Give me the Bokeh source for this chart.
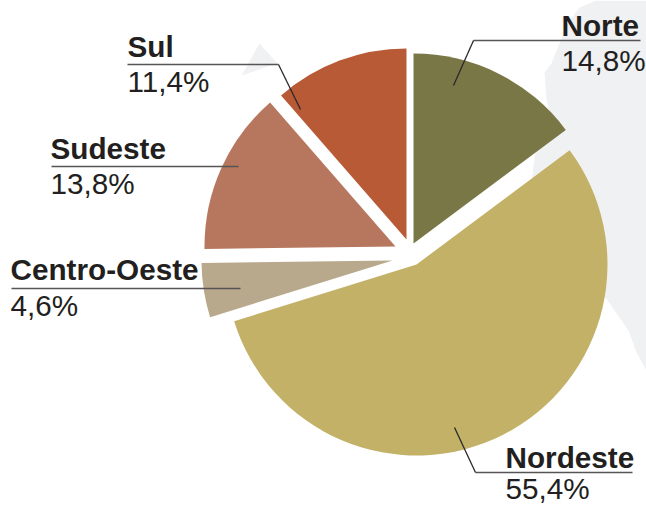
import math
from bokeh.embed import file_html
from bokeh.models import ColumnDataSource, Range1d
from bokeh.plotting import figure
from bokeh.resources import INLINE
from bokeh.core.properties import value

# Data
regions = ["Norte", "Nordeste", "Centro-Oeste", "Sudeste", "Sul"]
shares = [14.8, 55.4, 4.6, 13.8, 11.4]
share_labels = ["14,8%", "55,4%", "4,6%", "13,8%", "11,4%"]
colors = ["#797746", "#c3b168", "#b8a88c", "#b7775e", "#b85a36"]

# Exploded apex of each slice, image pixels
apex_x = [413, 416, 392, 395, 406]
apex_y = [243, 264, 260, 246, 239]
radius = [190, 191, 191, 191, 191]

# Label text anchor, image pixels
name_x = [561, 505, 10, 50, 127]
name_y = [36, 468, 280, 159, 57]
pct_y = [71, 499, 316, 194, 92]

# Leader lines, image pixels
leader_h_x = [[473, 640], [475, 632], [11, 240], [51, 238], [127, 278]]
leader_h_y = [[40, 40], [472, 472], [288, 288], [166, 166], [64, 64]]
leader_d_x = [[473, 453], [475, 454], [], [], [278, 300]]
leader_d_y = [[40, 85], [472, 427], [], [], [64, 109]]

# Pale map behind the chart, image pixels
map_a_x = [596, 579, 569, 559, 551, 544, 546, 552, 535, 530, 600, 628, 636, 646, 646]
map_a_y = [0, 7, 20, 43, 63, 72, 100, 125, 150, 190, 290, 330, 352, 370, 0]
map_b_x = [259, 241, 277]
map_b_y = [43, 75, 63]

W, H = 646, 506


def up(values):
    return [H - v for v in values]


p = figure(width=W, height=H, output_backend="svg", toolbar_location=None,
           x_range=Range1d(0, W), y_range=Range1d(0, H),
           min_border=0, outline_line_color=None, background_fill_color="white")
p.axis.visible = False
p.grid.visible = False

p.patches([map_a_x, map_b_x], [up(map_a_y), up(map_b_y)],
          fill_color="#f0f1f3", line_color=None)

# clockwise from north
cum = 0.0
starts, ends = [], []
for s in shares:
    starts.append(math.radians(90 - cum * 3.6))
    cum += s
    ends.append(math.radians(90 - cum * 3.6))

src = ColumnDataSource(dict(x=apex_x, y=up(apex_y), r=radius, s=ends, e=starts, c=colors))
p.wedge(x="x", y="y", radius="r", start_angle="s", end_angle="e",
        direction="anticlock", fill_color="c", line_color=None, source=src)

p.multi_line(leader_h_x, [up(v) for v in leader_h_y], line_color="#565455", line_width=1.6)
dx = [v for v in leader_d_x if v]
dy = [up(v) for v in leader_d_y if v]
p.multi_line(dx, dy, line_color="#2a2829", line_width=1.3)

p.text(name_x, up(name_y), text=regions, text_font=value("Liberation Sans"),
       text_font_style="bold", text_font_size="29.7px", text_color="#231f20",
       text_baseline="alphabetic", text_align="left", y_offset=-11)
p.text(name_x, up(pct_y), text=share_labels, text_font=value("Liberation Sans"),
       text_font_size="29.7px", text_color="#231f20",
       text_baseline="alphabetic", text_align="left", y_offset=-11)

open("out.html", "w").write(file_html(p, INLINE))
